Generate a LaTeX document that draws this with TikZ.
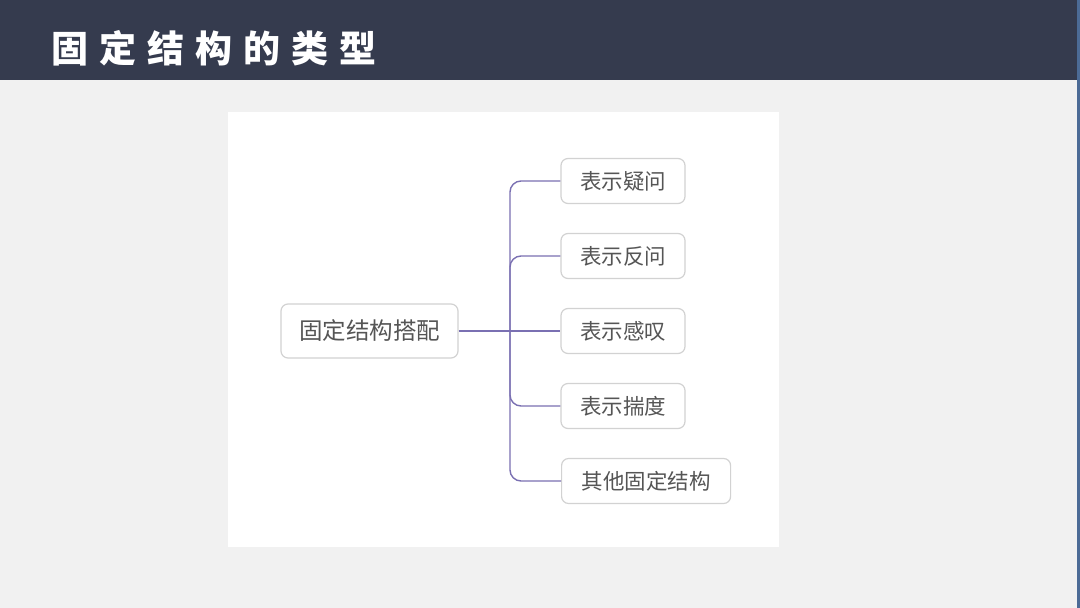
\documentclass[tikz,border=0pt]{standalone}
\usepackage{fontspec}
\newfontfamily\cjk{Noto Sans CJK SC}
\newfontfamily\cjkwide[LetterSpace=30]{Noto Sans CJK SC}
\usetikzlibrary{positioning}

\definecolor{headbg}{HTML}{353B4E}
\definecolor{pagebg}{HTML}{F1F1F1}
\definecolor{edgeblue}{HTML}{4C6B96}
\definecolor{boxline}{HTML}{D2D2D2}
\definecolor{boxtext}{HTML}{555555}
\definecolor{branchcol}{HTML}{7A70B2}

\begin{document}
\begin{tikzpicture}[x=1pt, y=-1pt,
  box/.style={draw=boxline, line width=1.2pt, rounded corners=7pt, fill=white,
    text=boxtext, font=\cjk\fontsize{21.5}{24}\selectfont, inner sep=0pt,
    minimum height=45pt, align=center},
  branch/.style={draw=branchcol, line width=1.4pt, rounded corners=11pt}]

% ----------------------------
% PAGE
% ----------------------------
\useasboundingbox (0,0) rectangle (1080,608);
\fill[pagebg] (0,0) rectangle (1080,608);
\fill[headbg] (0,0) rectangle (1080,80);
\fill[edgeblue] (1077,0) rectangle (1080,608);

\node[anchor=west, text=white, inner sep=0pt,
  font=\cjkwide\bfseries\fontsize{37}{40}\selectfont]
  (title) at (51,48) {固定结构的类型};

% ----------------------------
% PANEL
% ----------------------------
\fill[white] (228,112) rectangle (779,547);

% ----------------------------
% NODES
% ----------------------------
\def\cx{623}      % centre x of the short boxes

\node[box, minimum width=177pt, minimum height=54pt,
  font=\cjk\fontsize{23.5}{27}\selectfont] (root) at (369.5,331) {固定结构搭配};

\node[box, minimum width=124pt] (q)  at (\cx,181) {表示疑问};
\node[box, minimum width=124pt] (rq) at (\cx,256) {表示反问};
\node[box, minimum width=124pt] (ex) at (\cx,331) {表示感叹};
\node[box, minimum width=124pt] (es) at (\cx,406) {表示揣度};
\node[box, minimum width=169pt, anchor=west] (ot) at (561,481) {其他固定结构};

\coordinate (jn) at (510,331);   % trunk

% ----------------------------
% BRANCHES
% ----------------------------
\draw[branch] (root.east) -- (ex.west);
\foreach \n in {q,rq,es,ot}
  \draw[branch] (jn) |- (\n.west);

\end{tikzpicture}
\end{document}
